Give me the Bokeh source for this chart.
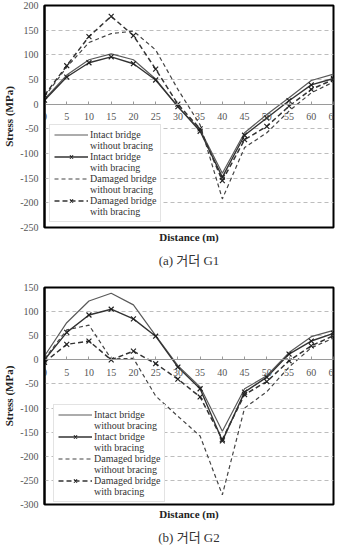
from bokeh.plotting import figure
from bokeh.models import FixedTicker, LinearAxis, Title, Legend, LegendItem, Range1d
from bokeh.layouts import column
from bokeh.embed import file_html
from bokeh.resources import INLINE

# Distance along the girder (m)
distance = [0, 5, 10, 15, 20, 25, 30, 35, 40, 45, 50, 55, 60, 65]

# Girder G1 stress (MPa)
g1_intact_wo = [10, 59, 90, 102, 90, 51, -5, -52, -140, -58, -21, 13, 48, 61]
g1_intact_w = [8, 55, 84, 96, 82, 49, -5, -55, -148, -63, -28, 7, 39, 52]
g1_damaged_wo = [15, 75, 125, 143, 148, 110, 30, -42, -192, -88, -58, -14, 23, 45]
g1_damaged_w = [18, 78, 137, 178, 139, 71, 0, -50, -155, -72, -45, -4, 30, 50]

# Girder G2 stress (MPa)
g2_intact_wo = [8, 77, 122, 138, 114, 50, -12, -56, -148, -60, -33, 15, 48, 61]
g2_intact_w = [0, 57, 93, 105, 85, 49, -15, -60, -168, -67, -36, 12, 39, 55]
g2_damaged_wo = [2, 62, 72, 2, 3, -75, -117, -158, -280, -100, -66, -15, 25, 45]
g2_damaged_w = [-5, 32, 39, 0, 18, -8, -40, -77, -165, -72, -45, -2, 29, 50]

x_ticks = list(range(0, 70, 5))
# legend text: (first line, second line) per series
labels = [("Intact bridge", "without bracing"), ("Intact bridge", "with bracing"),
          ("Damaged bridge", "without bracing"), ("Damaged bridge", "with bracing")]

SERIF = "Liberation Serif"
CAPTION_FONT = "Liberation Serif, Noto Sans CJK KR"


def make_chart(series, y_lo, y_hi, caption, height, top_border, bottom_border, legend_xy):
    p = figure(width=340, height=height,
               x_range=Range1d(0, 65), y_range=Range1d(y_lo, y_hi),
               output_backend="svg", toolbar_location=None,
               min_border_left=42, min_border_right=7,
               min_border_top=top_border, min_border_bottom=bottom_border)
    p.title.visible = False
    p.background_fill_color = "white"
    p.border_fill_color = "white"
    p.outline_line_color = "black"
    p.outline_line_width = 2

    # horizontal dashed gridlines every 50 MPa
    y_ticks = list(range(y_lo, y_hi + 1, 50))
    p.xgrid.visible = False
    p.ygrid.ticker = FixedTicker(ticks=y_ticks)
    p.ygrid.grid_line_color = "#bdbdbd"
    p.ygrid.grid_line_dash = "4 3"

    # stress axis
    yax = p.yaxis[0]
    yax.ticker = FixedTicker(ticks=y_ticks)
    yax.major_label_overrides = {t: str(t) for t in y_ticks}
    yax.axis_label = "Stress (MPa)"
    yax.axis_label_text_font = SERIF
    yax.axis_label_text_font_style = "bold"
    yax.axis_label_text_font_size = "11px"
    yax.axis_label_text_color = "#222222"
    yax.axis_label_standoff = 2
    yax.major_label_text_font = SERIF
    yax.major_label_text_font_size = "10px"
    yax.major_label_text_color = "#555555"
    yax.major_label_standoff = 6
    yax.major_tick_out = 0
    yax.major_tick_in = 0
    yax.minor_tick_line_color = None
    yax.axis_line_color = "black"
    yax.axis_line_width = 2

    # distance axis sits on the zero-stress line
    xax = p.xaxis[0]
    xax.fixed_location = 0
    xax.ticker = FixedTicker(ticks=x_ticks)
    xax.axis_line_color = "#9a9a9a"
    xax.major_tick_line_color = "#9a9a9a"
    xax.major_tick_in = 3
    xax.major_tick_out = 0
    xax.minor_tick_line_color = None
    xax.major_label_text_font = SERIF
    xax.major_label_text_font_size = "10px"
    xax.major_label_text_color = "#555555"
    xax.major_label_standoff = 9

    # axis title below the frame
    lab = LinearAxis(ticker=FixedTicker(ticks=[]), axis_label="Distance (m)",
                     axis_line_color=None, major_tick_line_color=None,
                     minor_tick_line_color=None, major_tick_out=0, major_tick_in=0,
                     major_label_standoff=0, axis_label_standoff=3,
                     axis_label_text_font=SERIF, axis_label_text_font_style="bold",
                     axis_label_text_font_size="11px", axis_label_text_color="#222222")
    p.add_layout(lab, "below")

    cap = Title(text=caption, align="center", text_font=CAPTION_FONT,
                text_font_style="normal", text_font_size="13px",
                text_color="#333333", standoff=10)
    p.add_layout(cap, "below")

    intact_wo, intact_w, damaged_wo, damaged_w = series
    r1 = p.line(distance, intact_wo, line_color="#5a5a5a", line_width=1.2)
    r2 = p.line(distance, intact_w, line_color="#333333", line_width=1.4)
    r2m = p.scatter(distance, intact_w, marker="x", size=7, line_color="#222222", line_width=1.2)
    r3 = p.line(distance, damaged_wo, line_color="#444444", line_width=1.2, line_dash="4 3")
    r4 = p.line(distance, damaged_w, line_color="#333333", line_width=1.5, line_dash="5 3")
    r4m = p.scatter(distance, damaged_w, marker="x", size=7, line_color="#222222", line_width=1.2)

    # blank legend swatch used for the second text line of each entry
    blank = p.line([], [], line_alpha=0)

    groups = [[r1], [r2, r2m], [r3], [r4, r4m]]
    items = []
    for (first, second), rends in zip(labels, groups):
        items.append(LegendItem(label=first, renderers=rends))
        items.append(LegendItem(label=second, renderers=[blank]))

    legend = Legend(items=items, location=legend_xy)
    legend.label_text_font = SERIF
    legend.label_text_font_size = "10px"
    legend.label_text_color = "#333333"
    legend.glyph_width = 34
    legend.glyph_height = 11
    legend.label_standoff = 2
    legend.label_height = 11
    legend.spacing = 0
    legend.padding = 4
    legend.margin = 0
    legend.border_line_color = "#c8c8c8"
    legend.border_line_width = 1
    legend.background_fill_color = "white"
    legend.background_fill_alpha = 1.0
    p.add_layout(legend)
    return p


p1 = make_chart((g1_intact_wo, g1_intact_w, g1_damaged_wo, g1_damaged_w),
                -250, 200, "(a) 거더 G1", 275, 5, 48, (5, 5))
p2 = make_chart((g2_intact_wo, g2_intact_w, g2_damaged_wo, g2_damaged_w),
                -300, 150, "(b) 거더 G2", 274, 12, 40, (9, 2))

layout = column(p1, p2, spacing=0)
open("out.html", "w").write(file_html(layout, INLINE))
